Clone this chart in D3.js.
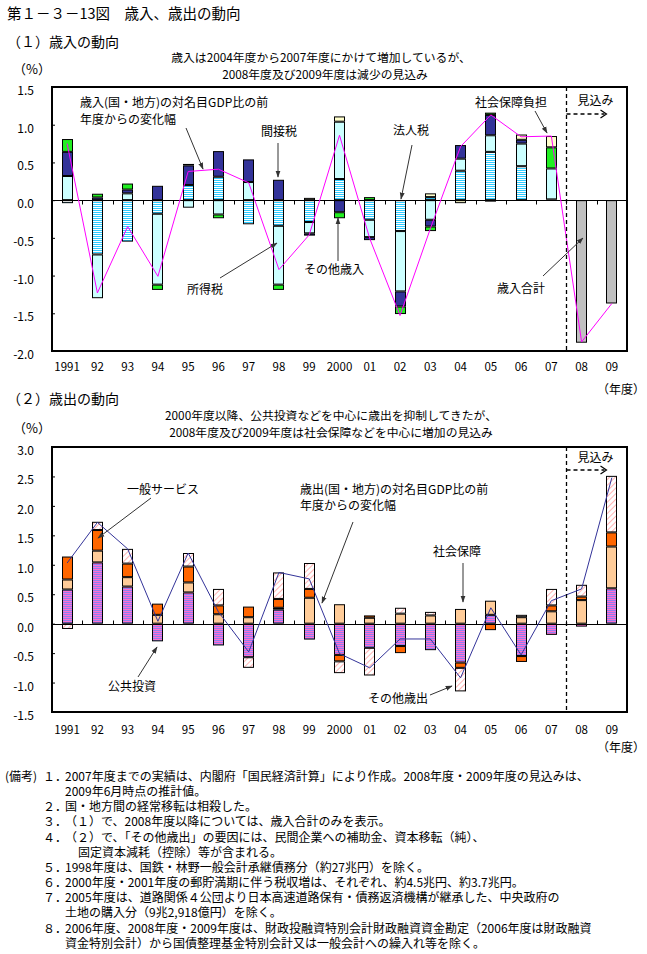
<!DOCTYPE html>
<html><head><meta charset="utf-8">
<script src="https://cdn.jsdelivr.net/npm/d3@7"></script>
<style>
body{margin:0;background:#fff}
svg{display:block}
text{font-family:"Noto Sans CJK JP","Noto Sans",sans-serif;fill:#000}
</style>
</head><body>
<svg id="c" width="647" height="954"></svg>
<script>
// ---------- data ----------
const years = ["1991","92","93","94","95","96","97","98","99","2000","01","02","03","04","05","06","07","08","09"];

// (1) 歳入 components (% pt of nominal GDP, change from previous year)
const revKeys = ["法人税","所得税","間接税","その他歳入","社会保障負担"];
const corpTax      = [-0.04,-0.72,-0.55,-0.18, 0.20, 0.31,-0.32,-0.34,-0.29, 0.28,-0.26,-0.41, 0.04, 0.39, 0.64, 0.45, 0.01, 0, 0];
const incomeTax    = [ 0.32,-0.58, 0.09,-0.94,-0.10,-0.19, 0.24,-0.78,-0.15, 0.76,-0.23,-0.80,-0.26, 0.16, 0.22, 0.30, 0.41, 0, 0];
const indirectTax  = [ 0.32, 0.035,0.05, 0.19, 0.26, 0.34, 0.30, 0.27,-0.03,-0.16,-0.04,-0.20,-0.09, 0.18, 0.27, 0.05, 0.00, 0, 0];
const otherRevenue = [ 0.17, 0.05, 0.08,-0.07, 0.02,-0.05, 0.00,-0.07, 0.00,-0.08, 0.04,-0.10,-0.06, 0.00, 0.03, 0.00, 0.28, 0, 0];
const socialContrib= [ 0.00, 0.00, 0.00, 0.00, 0.00, 0.00, 0.00, 0.00, 0.03, 0.07, 0.00, 0.00, 0.05,-0.04,-0.01, 0.07, 0.15, 0, 0];
const revenueTotal = [null,null,null,null,null,null,null,null,null,null,null,null,null,null,null,null,null,-1.89,-1.37];
const revenueChange= [0.75,-1.23,-0.35,-1.01,0.38,0.41,0.23,-0.92,-0.46,0.86,-0.51,-1.53,-0.38,0.71,1.13,0.84,0.85,-1.88,-1.37];
const revTicks = [1.5,1.0,0.5,0.0,-0.5,-1.0,-1.5,-2.0];

// (2) 歳出 components
const expKeys = ["公共投資","社会保障","一般サービス","その他歳出"];
const publicInv  = [0.58,1.04,0.63,-0.30,0.53,-0.37,-0.57,0.24,-0.27,-0.53,-0.41,-0.38,-0.45,-0.66,0.15,-0.55,-0.19,-0.05,0.60];
const socialSec  = [0.17,0.20,0.16, 0.15,0.17, 0.16, 0.11,0.03, 0.44, 0.33, 0.10, 0.17, 0.14, 0.25,0.24, 0.11, 0.21, 0.40,0.71];
const generalSvc = [0.39,0.35,0.23, 0.19,0.27, 0.15, 0.18,0.15, 0.15,-0.11, 0.04,-0.12, 0.00,-0.09,-0.11,-0.10, 0.10, 0.06,0.24];
const otherExp   = [-0.09,0.14,0.25,0.00,0.23, 0.28,-0.18,0.45, 0.44,-0.20,-0.47, 0.10, 0.06,-0.40,0.00, 0.04, 0.28, 0.20,0.96];
const expenditureChange = [1.03,1.72,1.27,0.04,1.20,0.20,-0.48,0.87,0.76,-0.51,-0.75,-0.26,-0.26,-0.92,0.27,-0.53,0.39,0.59,2.48];
const expTicks = [3.0,2.5,2.0,1.5,1.0,0.5,0.0,-0.5,-1.0,-1.5];

const notes = [
  ["(備考)１．", "2007年度までの実績は、内閣府「国民経済計算」により作成。2008年度・2009年度の見込みは、", 0],
  ["", "2009年6月時点の推計値。", 0],
  ["２．", "国・地方間の経常移転は相殺した。", 0],
  ["３．", "（１）で、2008年度以降については、歳入合計のみを表示。", 0],
  ["４．", "（２）で、「その他歳出」の要因には、民間企業への補助金、資本移転（純）、", 0],
  ["", "固定資本減耗（控除）等が含まれる。", 1],
  ["５．", "1998年度は、国鉄・林野一般会計承継債務分（約27兆円）を除く。", 0],
  ["６．", "2000年度・2001年度の郵貯満期に伴う税収増は、それぞれ、約4.5兆円、約3.7兆円。", 0],
  ["７．", "2005年度は、道路関係４公団より日本高速道路保有・債務返済機構が継承した、中央政府の", 0],
  ["", "土地の購入分（9兆2,918億円）を除く。", 0],
  ["８．", "2006年度、2008年度・2009年度は、財政投融資特別会計財政融資資金勘定（2006年度は財政融資", 0],
  ["", "資金特別会計）から国債整理基金特別会計又は一般会計への繰入れ等を除く。", 0]
];

// ---------- drawing ----------
const svg = d3.select("#c");
const defs = svg.append("defs");

// patterns
const pCorp = defs.append("pattern").attr("id","corp").attr("patternUnits","userSpaceOnUse").attr("width",4).attr("height",2);
pCorp.append("rect").attr("width",4).attr("height",2).attr("fill","#ffffff");
pCorp.append("rect").attr("width",4).attr("height",1).attr("fill","#33ccff");
const pPub = defs.append("pattern").attr("id","pub").attr("patternUnits","userSpaceOnUse").attr("width",4).attr("height",2);
pPub.append("rect").attr("width",4).attr("height",2).attr("fill","#ff70d0");
pPub.append("rect").attr("width",4).attr("height",1).attr("fill","#9080f0");
const pHatch = defs.append("pattern").attr("id","hatch").attr("patternUnits","userSpaceOnUse").attr("width",4).attr("height",4).attr("patternTransform","rotate(45)");
pHatch.append("rect").attr("width",4).attr("height",4).attr("fill","#ffffff");
pHatch.append("line").attr("x1",0).attr("y1",0).attr("x2",0).attr("y2",4).attr("stroke","#ff8080").attr("stroke-width",1.2);

const mk = defs.append("marker").attr("id","ah").attr("viewBox","0 0 10 10").attr("refX",9).attr("refY",5)
  .attr("markerWidth",7).attr("markerHeight",7).attr("orient","auto").attr("markerUnits","userSpaceOnUse");
mk.append("path").attr("d","M0,1.5 L10,5 L0,8.5 Z").attr("fill","#333");

const X0 = 52, X1 = 627, BAR_W = 11;
const x = d3.scaleBand().domain(years).range([X0, X1]).paddingInner(0).paddingOuter(0);
const cx = d => x(d) + x.bandwidth()/2;

function drawStacked(g, y, keys, rows, fills) {
  const stack = d3.stack().keys(keys).offset(d3.stackOffsetDiverging);
  const series = stack(rows);
  series.forEach((s, k) => {
    s.forEach((seg, i) => {
      const v = seg[1] - seg[0];
      if (!v) return;
      const top = Math.min(y(seg[0]), y(seg[1]));
      const h = Math.abs(y(seg[0]) - y(seg[1]));
      const xl = Math.round(cx(rows[i].year) - BAR_W/2);
      if (h < 2) {
        g.append("rect").attr("x", xl).attr("y", top).attr("width", BAR_W).attr("height", Math.max(h,1.5)).attr("fill","#000");
      } else {
        g.append("rect").attr("x", xl+0.5).attr("y", top+0.5).attr("width", BAR_W-1).attr("height", h-1)
          .attr("fill", fills[k]).attr("stroke","#000").attr("stroke-width",1);
      }
    });
  });
}

function frameAndAxes(g, y, ticks, tickDir) {
  const axis = d3.axisLeft(y).tickValues(ticks).tickSizeInner(-3).tickSizeOuter(0).tickPadding(18)
    .tickFormat(d => d.toFixed(1));
  const ag = g.append("g").attr("transform", `translate(${X0},0)`).call(axis);
  ag.select(".domain").remove();
  ag.selectAll("text").attr("font-size", 12).attr("dy","0.62em").style("font-family","'Noto Sans CJK JP'");
  ag.selectAll("line").attr("stroke","#000");
  g.append("line").attr("x1",X0).attr("x2",X1).attr("y1",Math.round(y(0))+0.5).attr("y2",Math.round(y(0))+0.5).attr("stroke","#000");
  years.forEach((d,i) => {
    if (i === 0) return;
    const xx = Math.round(x(d)) + 0.5;
    g.append("line").attr("x1",xx).attr("x2",xx).attr("y1",Math.round(y(0))+0.5).attr("y2",Math.round(y(0))+0.5+tickDir*4).attr("stroke","#000");
  });
}

function drawFrame(g, yTop, yBot) {
  g.append("rect").attr("x",X0).attr("y",yTop).attr("width",X1-X0).attr("height",yBot-yTop)
    .attr("fill","none").attr("stroke","#000").attr("stroke-width",2);
}

function forecastMark(g, yTop, yBot, yArrow, yText) {
  const xd = Math.round(x("08")) + 0.5;
  g.append("line").attr("x1",xd).attr("x2",xd).attr("y1",yTop).attr("y2",yBot)
    .attr("stroke","#000").attr("stroke-width",1.3).attr("stroke-dasharray","4,3");
  g.append("line").attr("x1",xd).attr("x2",xd+38).attr("y1",yArrow).attr("y2",yArrow)
    .attr("stroke","#000").attr("stroke-width",1.3).attr("stroke-dasharray","4,3");
  g.append("path").attr("d",`M${xd+34},${yArrow-4} L${xd+40},${yArrow} L${xd+34},${yArrow+4}`)
    .attr("fill","none").attr("stroke","#000").attr("stroke-width",1.2);
  g.append("text").attr("x",xd+11).attr("y",yText).attr("font-size",12).text("見込み");
}

function xLabels(g, yBase) {
  g.selectAll(null).data(years).join("text")
    .attr("x", d => cx(d)).attr("y", yBase).attr("text-anchor","middle").attr("font-size",11.5).text(d => d);
}

function arrow(g, x1, y1, x2, y2) {
  g.append("line").attr("x1",x1).attr("y1",y1).attr("x2",x2).attr("y2",y2)
    .attr("stroke","#333").attr("stroke-width",1).attr("marker-end","url(#ah)");
}
function label(g, xx, yy, t, anchor) {
  g.append("text").attr("x",xx).attr("y",yy).attr("font-size",12).attr("text-anchor",anchor||"start").text(t);
}

// ---- titles ----
svg.append("text").attr("x",7).attr("y",19).attr("font-size",14.5).text("第１－３－13図　歳入、歳出の動向");
svg.append("text").attr("x",7).attr("y",47).attr("font-size",14).text("（１）歳入の動向");
svg.append("text").attr("x",321).attr("y",62).attr("font-size",11.8).attr("text-anchor","middle").text("歳入は2004年度から2007年度にかけて増加しているが、");
svg.append("text").attr("x",325).attr("y",79.2).attr("font-size",11.8).attr("text-anchor","middle").text("2008年度及び2009年度は減少の見込み");
svg.append("text").attr("x",13).attr("y",74).attr("font-size",13).text("（%）");

// ---- chart 1 ----
const g1 = svg.append("g");
const y1 = d3.scaleLinear().domain([-2.0, 1.5]).range([351, 87]);
const revRows = years.map((d,i) => ({year:d, "法人税":corpTax[i], "所得税":incomeTax[i], "間接税":indirectTax[i], "その他歳入":otherRevenue[i], "社会保障負担":socialContrib[i]}));
drawStacked(g1, y1, revKeys, revRows, ["url(#corp)","#ccffff","#333399","#22ee22","#ffffcc"]);
years.forEach((d,i) => {
  if (revenueTotal[i] == null) return;
  const top = Math.min(y1(0), y1(revenueTotal[i])), h = Math.abs(y1(revenueTotal[i]) - y1(0));
  g1.append("rect").attr("x", Math.round(cx(d)-BAR_W/2)+0.5).attr("y", top+0.5).attr("width",BAR_W-1).attr("height",h-1)
    .attr("fill","#c0c0c0").attr("stroke","#000");
});
frameAndAxes(g1, y1, revTicks, 1);
g1.append("path").datum(revenueChange).attr("fill","none").attr("stroke","#ff00ff").attr("stroke-width",1)
  .attr("d", d3.line().x((v,i)=>cx(years[i])).y(v=>y1(v)));
drawFrame(g1, 87, 351);
forecastMark(g1, 87, 351, 114, 105);
xLabels(g1, 371);
svg.append("text").attr("x",597).attr("y",394).attr("font-size",12).text("（年度）");

label(g1, 80, 107, "歳入(国・地方)の対名目GDP比の前");
label(g1, 80, 124, "年度からの変化幅");
arrow(g1, 186, 128, 203, 169);
label(g1, 279, 136, "間接税", "middle");
arrow(g1, 278, 143, 278, 177);
label(g1, 411, 135, "法人税", "middle");
arrow(g1, 412, 145, 401, 199);
label(g1, 511, 107, "社会保障負担", "middle");
arrow(g1, 535, 111, 547, 133);
label(g1, 205, 294, "所得税", "middle");
arrow(g1, 220, 278, 277, 243);
label(g1, 334, 274, "その他歳入", "middle");
arrow(g1, 338, 261, 338, 218);
label(g1, 521, 293, "歳入合計", "middle");
arrow(g1, 543, 276, 583, 238);

// ---- chart 2 ----
svg.append("text").attr("x",7).attr("y",404).attr("font-size",14).text("（２）歳出の動向");
svg.append("text").attr("x",331).attr("y",420).attr("font-size",11.8).attr("text-anchor","middle").text("2000年度以降、公共投資などを中心に歳出を抑制してきたが、");
svg.append("text").attr("x",331).attr("y",437.2).attr("font-size",11.8).attr("text-anchor","middle").text("2008年度及び2009年度は社会保障などを中心に増加の見込み");
svg.append("text").attr("x",13).attr("y",433).attr("font-size",13).text("（%）");

const g2 = svg.append("g");
const y2 = d3.scaleLinear().domain([-1.5, 3.0]).range([712, 447]);
const expRows = years.map((d,i) => ({year:d, "公共投資":publicInv[i], "社会保障":socialSec[i], "一般サービス":generalSvc[i], "その他歳出":otherExp[i]}));
drawStacked(g2, y2, expKeys, expRows, ["url(#pub)","#ffcc99","#ff6600","url(#hatch)"]);
frameAndAxes(g2, y2, expTicks, -1);
g2.append("path").datum(expenditureChange).attr("fill","none").attr("stroke","#333399").attr("stroke-width",1)
  .attr("d", d3.line().x((v,i)=>cx(years[i])).y(v=>y2(v)));
drawFrame(g2, 447, 712);
forecastMark(g2, 447, 712, 470, 462);
xLabels(g2, 734);
svg.append("text").attr("x",597).attr("y",752).attr("font-size",12).text("（年度）");

label(g2, 163, 494, "一般サービス", "middle");
arrow(g2, 151, 498, 98, 538);
label(g2, 300, 494, "歳出(国・地方)の対名目GDP比の前");
label(g2, 300, 510, "年度からの変化幅");
arrow(g2, 353, 522, 322, 603);
label(g2, 457, 556, "社会保障", "middle");
arrow(g2, 463, 563, 463, 602);
label(g2, 132, 691, "公共投資", "middle");
arrow(g2, 138, 677, 157, 647);
label(g2, 398, 703, "その他歳出", "middle");
arrow(g2, 430, 695, 452, 686);

// ---- notes ----
const ng = svg.append("g");
notes.forEach((n,i) => {
  const yy = 781 + i*15.15;
  if (n[0]) {
    if (n[0].startsWith("(備考)")) {
      ng.append("text").attr("x",5).attr("y",yy).attr("font-size",12).text("(備考)");
      ng.append("text").attr("x",43).attr("y",yy).attr("font-size",12).text(n[0].replace("(備考)",""));
    } else {
      ng.append("text").attr("x",43).attr("y",yy).attr("font-size",12).text(n[0]);
    }
  }
  ng.append("text").attr("x", n[2] ? 78 : 65).attr("y",yy).attr("font-size",12).text(n[1]);
});
</script>
</body></html>
